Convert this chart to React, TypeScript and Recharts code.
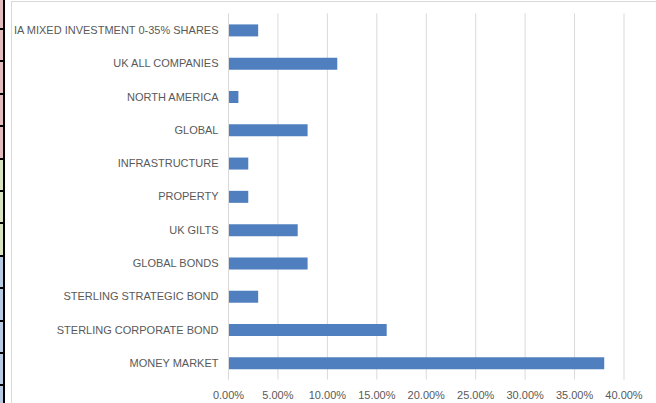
import React from "react";
import { BarChart, Bar, XAxis, YAxis, CartesianGrid } from "recharts";

const categories = [
  "IA MIXED INVESTMENT 0-35% SHARES",
  "UK ALL COMPANIES",
  "NORTH AMERICA",
  "GLOBAL",
  "INFRASTRUCTURE",
  "PROPERTY",
  "UK GILTS",
  "GLOBAL BONDS",
  "STERLING STRATEGIC BOND",
  "STERLING CORPORATE BOND",
  "MONEY MARKET",
];
const values = [0.03, 0.11, 0.01, 0.08, 0.02, 0.02, 0.07, 0.08, 0.03, 0.16, 0.38];
const xTicks = [0, 0.05, 0.1, 0.15, 0.2, 0.25, 0.3, 0.35, 0.4];

const data = categories.map((name, i) => ({ name, value: values[i] }));

const stripColors = ["#e3bcbd", "#e3bcbd", "#e3bcbd", "#e3bcbd", "#e3bcbd", "#d9e3bf", "#d9e3bf", "#d9e3bf", "#b9cbe2", "#b9cbe2", "#b9cbe2", "#b9cbe2", "#b9cbe2"];

const FONT = "'Liberation Sans', Arial, sans-serif";

const YTick = (props: any) => {
  const { x, y, payload } = props;
  return (
    <text x={x} y={y} dy="0.36em" textAnchor="end" fill="#595959" fontSize={11} fontFamily={FONT}>
      {payload.value}
    </text>
  );
};

export default function App() {
  const rowH = 32.4;
  const firstLine = 28 - rowH;
  return (
    <div style={{ position: "absolute", left: 0, top: 0, width: 656, height: 403, background: "#ffffff", overflow: "hidden" }}>
      {stripColors.map((c, i) => (
        <div
          key={i}
          style={{
            position: "absolute",
            left: 0,
            top: firstLine + i * rowH,
            width: 3,
            height: rowH,
            background: c,
            borderTop: "2px solid #000",
            boxSizing: "border-box",
          }}
        />
      ))}
      <div style={{ position: "absolute", left: 3, top: 0, width: 2, height: 403, background: "#000" }} />
      <div style={{ position: "absolute", left: 11, top: 1, width: 645, height: 402, borderLeft: "1px solid #d9d9d9", borderTop: "1px solid #d9d9d9", boxSizing: "border-box" }}>
        <BarChart
          width={644}
          height={401}
          data={data}
          layout="vertical"
          margin={{ top: 11.4, right: 32, bottom: 3.4, left: 0 }}
          barCategoryGap={0}
        >
          <CartesianGrid horizontal={false} vertical={true} stroke="#d9d9d9" strokeWidth={1} />
          <XAxis
            type="number"
            domain={[0, 0.4]}
            ticks={xTicks}
            tickFormatter={(v: number) => (v * 100).toFixed(2) + "%"}
            axisLine={false}
            tickLine={false}
            tickSize={0}
            tickMargin={12}
            height={20}
            interval={0}
            tick={{ fill: "#595959", fontSize: 11, fontFamily: FONT }}
          />
          <YAxis
            type="category"
            dataKey="name"
            width={216.5}
            axisLine={{ stroke: "#d9d9d9" }}
            tickLine={false}
            tickSize={0}
            tickMargin={10}
            interval={0}
            tick={<YTick />}
          />
          <Bar dataKey="value" fill="#4f7fbe" barSize={12} isAnimationActive={false} />
        </BarChart>
      </div>
    </div>
  );
}
